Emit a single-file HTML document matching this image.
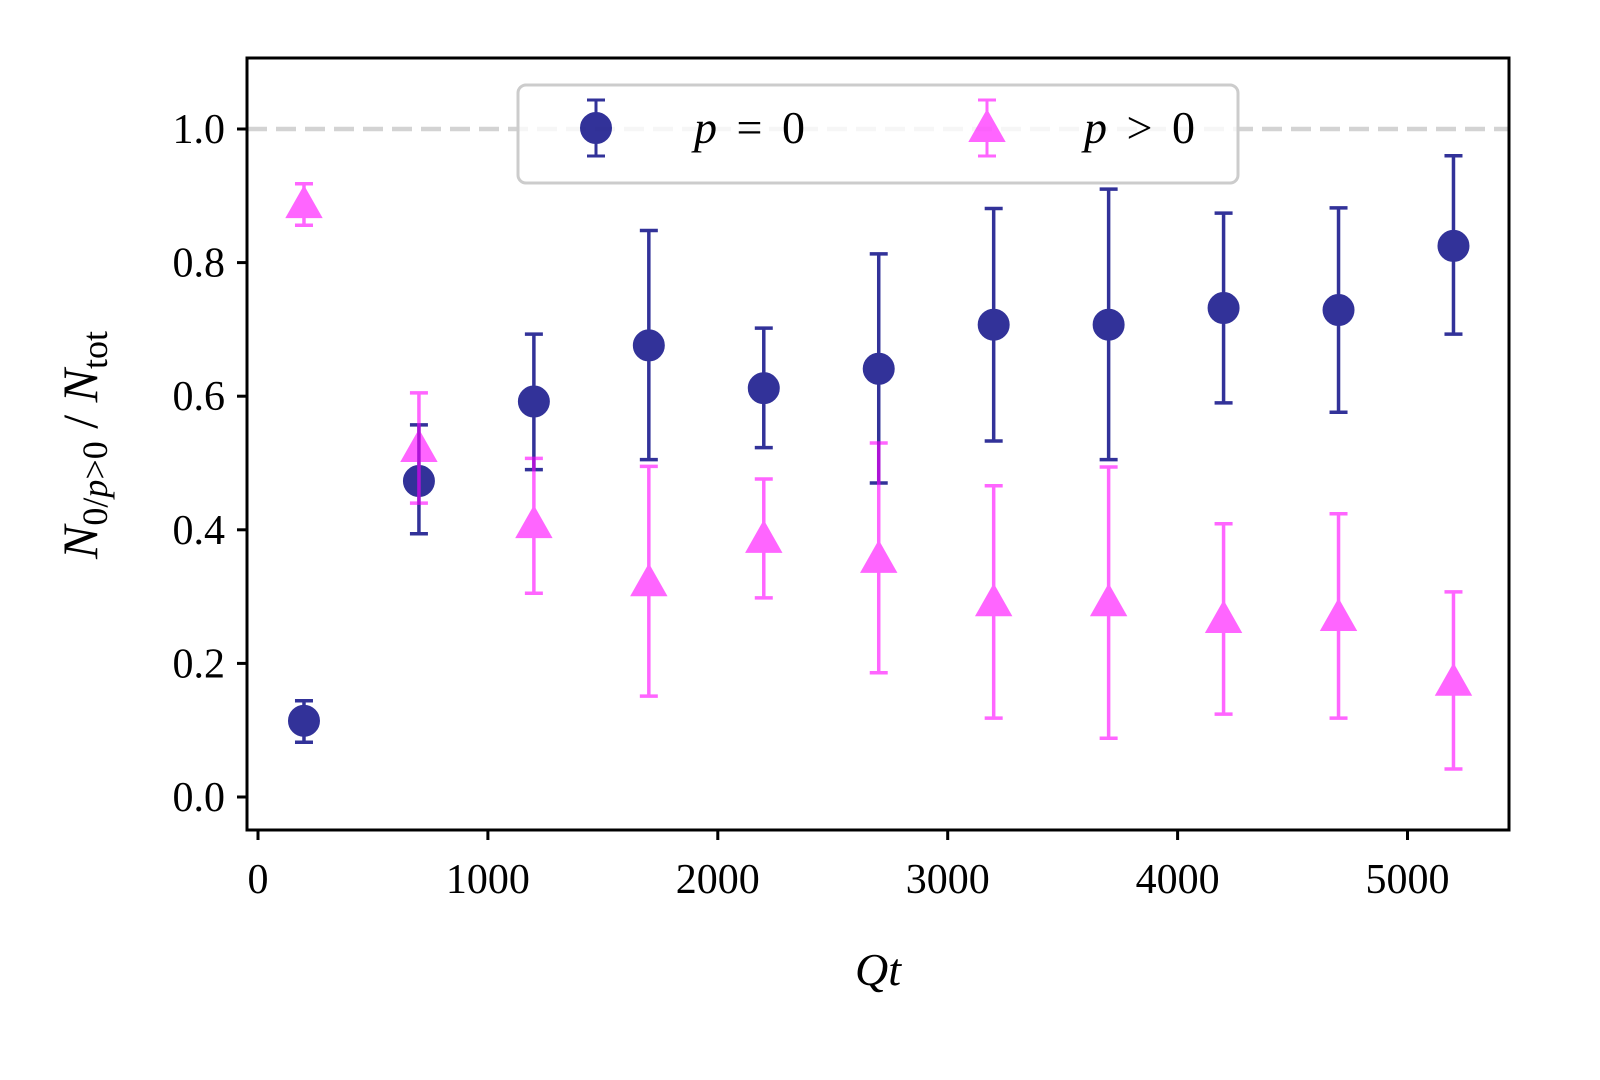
<!DOCTYPE html>
<html><head><meta charset="utf-8"><style>
html,body{margin:0;padding:0;background:#fff;}
svg{display:block;font-family:"Liberation Serif",serif;}
</style></head><body>
<svg id="chart" width="1600" height="1080" viewBox="0 0 1600 1080">
<rect width="1600" height="1080" fill="#fff"/>
<g id="grid"></g>
<g id="marks"></g>
<rect x="247" y="58" width="1262" height="772" fill="none" stroke="#000" stroke-width="3"/>
<g id="axes"></g>
<text x="878" y="985" text-anchor="middle" font-size="46" font-style="italic">Qt</text>
<text transform="translate(97,445) rotate(-90)" text-anchor="middle" font-size="50"><tspan font-style="italic">N</tspan><tspan font-size="36" dy="10">0/</tspan><tspan font-size="36" font-style="italic">p</tspan><tspan font-size="36">&gt;0</tspan><tspan dy="-10"> / </tspan><tspan font-style="italic">N</tspan><tspan font-size="36" dy="10">tot</tspan></text>
<g>
<rect x="518" y="85" width="720" height="98" rx="8" fill="#fff" fill-opacity="0.8" stroke="#ccc" stroke-width="3"/>
<g opacity="0.8">
<line x1="596" y1="100" x2="596" y2="156" stroke="#000080" stroke-width="3"/>
<line x1="587" y1="100" x2="605" y2="100" stroke="#000080" stroke-width="3"/>
<line x1="587" y1="156" x2="605" y2="156" stroke="#000080" stroke-width="3"/>
<circle cx="596" cy="128" r="15" fill="#000080" stroke="#000080" stroke-width="2"/>
</g>
<text x="694" y="143" font-size="46"><tspan font-style="italic">p</tspan> <tspan dx="8">=</tspan> <tspan dx="8">0</tspan></text>
<g opacity="0.6">
<line x1="987" y1="100" x2="987" y2="156" stroke="#ff00ff" stroke-width="3"/>
<line x1="978" y1="100" x2="996" y2="100" stroke="#ff00ff" stroke-width="3"/>
<line x1="978" y1="156" x2="996" y2="156" stroke="#ff00ff" stroke-width="3"/>
<polygon points="987,111 1004,141 970,141" fill="#ff00ff" stroke="#ff00ff" stroke-width="2"/>
</g>
<text x="1084" y="143" font-size="46"><tspan font-style="italic">p</tspan> <tspan dx="8">&gt;</tspan> <tspan dx="8">0</tspan></text>
</g>
</svg>
<script>
const xs = [200,700,1200,1700,2200,2700,3200,3700,4200,4700,5200];
const p0 = [0.114,0.473,0.592,0.676,0.612,0.641,0.707,0.707,0.732,0.729,0.825];
const p0Lo = [0.082,0.394,0.49,0.505,0.523,0.47,0.533,0.505,0.59,0.576,0.693];
const p0Hi = [0.144,0.557,0.693,0.848,0.702,0.813,0.881,0.91,0.874,0.882,0.96];
const pg = [0.886,0.521,0.407,0.32,0.385,0.355,0.29,0.29,0.265,0.268,0.171];
const pgLo = [0.856,0.44,0.305,0.151,0.298,0.186,0.118,0.088,0.124,0.118,0.042];
const pgHi = [0.918,0.605,0.507,0.495,0.476,0.53,0.466,0.494,0.409,0.424,0.307];
const xTicks = [0,1000,2000,3000,4000,5000];
const yTicks = [0.0,0.2,0.4,0.6,0.8,1.0];
const X = v => 258 + v*0.2299;
const Y = v => 797 - v*668;
const NS = "http://www.w3.org/2000/svg";
function mk(tag, attrs, parent){const e=document.createElementNS(NS,tag);for(const k in attrs)e.setAttribute(k,attrs[k]);parent.appendChild(e);return e;}
const axes=document.getElementById('axes'), marks=document.getElementById('marks'), grid=document.getElementById('grid');
const ref = mk('line',{x1:247,x2:1509,y1:Y(1),y2:Y(1),stroke:'#d3d3d3','stroke-width':4.5,'stroke-dasharray':'20,9'},grid);


xTicks.forEach(t=>{
  const l=mk('line',{x1:X(t),x2:X(t),y1:830,y2:840,stroke:'#000','stroke-width':3},axes);
  
  
  const tx=mk('text',{x:X(t),y:893,'text-anchor':'middle','font-size':42},axes);
  tx.textContent=t;
  
  
});
yTicks.forEach(t=>{
  const l=mk('line',{x1:237,x2:247,y1:Y(t),y2:Y(t),stroke:'#000','stroke-width':3},axes);
  
  
  const tx=mk('text',{x:225,y:Y(t)+14,'text-anchor':'end','font-size':42},axes);
  tx.textContent=t.toFixed(1);
  
  
});
function series(vals,lo,hi,color,op,shape,name){
  const g=mk('g',{opacity:op},marks);
  
  
  xs.forEach((x,i)=>{
    const cx=X(x), cy=Y(vals[i]);
    mk('line',{x1:cx,x2:cx,y1:Y(lo[i]),y2:Y(hi[i]),stroke:color,'stroke-width':3.5},g);
    mk('line',{x1:cx-9,x2:cx+9,y1:Y(lo[i]),y2:Y(lo[i]),stroke:color,'stroke-width':3.5},g);
    mk('line',{x1:cx-9,x2:cx+9,y1:Y(hi[i]),y2:Y(hi[i]),stroke:color,'stroke-width':3.5},g);
    let m;
    if(shape==='circle') m=mk('circle',{cx:cx,cy:cy,r:15,fill:color,stroke:color,'stroke-width':2},g);
    else m=mk('polygon',{points:`${cx},${cy-18} ${cx+17},${cy+12} ${cx-17},${cy+12}`,fill:color,stroke:color,'stroke-width':2},g);
    
    
  });
}
series(p0,p0Lo,p0Hi,'#000080',0.8,'circle','series-p0');
series(pg,pgLo,pgHi,'#ff00ff',0.6,'tri','series-pgt0');
</script>
</body></html>
